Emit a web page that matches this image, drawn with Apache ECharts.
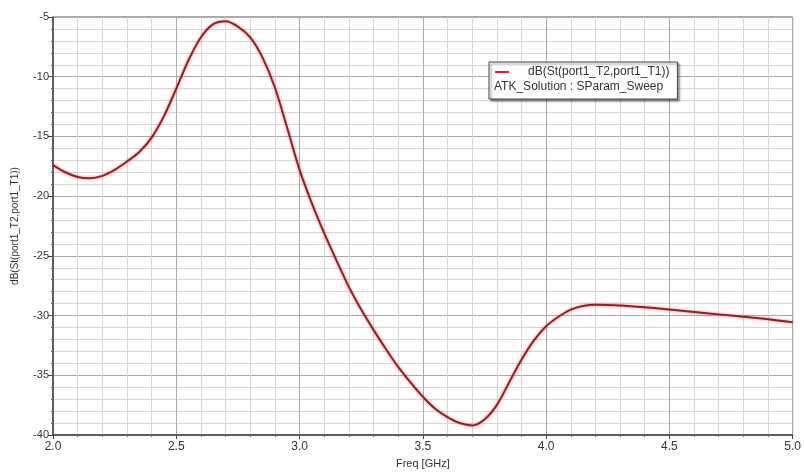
<!DOCTYPE html>
<html>
<head>
<meta charset="utf-8">
<script src="https://cdn.jsdelivr.net/npm/echarts@6/dist/echarts.min.js"></script>
<style>
  html, body { margin: 0; padding: 0; background: #fff; }
  #chart { width: 804px; height: 474px; }
</style>
</head>
<body>
<div id="chart"></div>
<script>
// frequency sweep (GHz) and S21 magnitude (dB)
const freq = [2.0, 2.05, 2.1, 2.15, 2.2, 2.25, 2.3, 2.35, 2.4, 2.45, 2.5, 2.55, 2.6, 2.65, 2.7,
  2.75, 2.8, 2.85, 2.9, 2.95, 3.0, 3.05, 3.1, 3.15, 3.2, 3.25, 3.3, 3.35, 3.4, 3.45, 3.5,
  3.55, 3.6, 3.65, 3.7, 3.75, 3.8, 3.85, 3.9, 3.95, 4.0, 4.05, 4.1, 4.15, 4.2, 4.3, 4.4,
  4.5, 4.6, 4.7, 4.8, 4.9, 5.0]
const s21 = [-17.4, -18.0, -18.4, -18.5, -18.3, -17.8, -17.1, -16.3, -15.1, -13.3, -11.0, -8.6, -6.7, -5.6, -5.35,
  -5.8, -6.7, -8.4, -10.9, -14.3, -17.8, -20.6, -23.1, -25.4, -27.6, -29.5, -31.2, -32.8, -34.3, -35.6, -36.8,
  -37.8, -38.5, -39.0, -39.2, -38.7, -37.5, -35.6, -33.7, -32.1, -30.9, -30.1, -29.5, -29.2, -29.1, -29.15, -29.3,
  -29.5, -29.7, -29.9, -30.1, -30.3, -30.55]

const seriesName = 'dB(St(port1_T2,port1_T1))'
const solutionName = 'ATK_Solution : SParam_Sweep'
const font = '"Liberation Sans", Arial, sans-serif'

const chart = echarts.init(document.getElementById('chart'))

chart.setOption({
  animation: false,
  backgroundColor: '#fff',
  grid: { left: 53, right: 7, top: 17, bottom: 39, show: true, borderColor: '#555', borderWidth: 1 },
  legend: {
    left: 489, top: 62,
    padding: [4, 8, 21, 6],
    backgroundColor: '#fff',
    borderColor: '#444',
    borderWidth: 1,
    shadowColor: 'rgba(0,0,0,0.45)',
    shadowBlur: 2,
    shadowOffsetX: 2,
    shadowOffsetY: 2,
    icon: 'rect',
    itemWidth: 14,
    itemHeight: 2,
    itemGap: 4,
    textStyle: { fontFamily: font, fontSize: 12, color: '#333', padding: [0, 0, 0, 14] },
    data: [seriesName]
  },
  graphic: [{
    type: 'text', left: 494, top: 81, z: 200, silent: true,
    style: { text: solutionName, font: '12px ' + font, fill: '#333' }
  }],
  xAxis: {
    type: 'value',
    min: 2, max: 5, interval: 0.5,
    name: 'Freq [GHz]',
    nameLocation: 'middle',
    nameGap: 23,
    nameTextStyle: { fontFamily: font, fontSize: 11, color: '#333', textDecoration: 'underline' },
    axisLine: { lineStyle: { color: '#444', width: 1.5 } },
    axisTick: { length: 4, lineStyle: { color: '#444' } },
    minorTick: { show: true, splitNumber: 5, length: 2, lineStyle: { color: '#666' } },
    axisLabel: { fontFamily: font, fontSize: 12, color: '#333', margin: 6, formatter: v => v.toFixed(1) },
    splitLine: { lineStyle: { color: '#aaa', width: 1 } },
    minorSplitLine: { show: true, lineStyle: { color: '#d6d6d6', width: 1 } }
  },
  yAxis: {
    type: 'value',
    min: -40, max: -5, interval: 5,
    name: seriesName,
    nameLocation: 'middle',
    nameGap: 33,
    nameTextStyle: { fontFamily: font, fontSize: 10, color: '#333' },
    axisLine: { show: true, lineStyle: { color: '#444', width: 1.5 } },
    axisTick: { show: true, length: 5, lineStyle: { color: '#444' } },
    minorTick: { show: true, splitNumber: 5, length: 2, lineStyle: { color: '#666' } },
    axisLabel: { fontFamily: font, fontSize: 11, color: '#333', margin: 4 },
    splitLine: { lineStyle: { color: '#aaa', width: 1 } },
    minorSplitLine: { show: true, lineStyle: { color: '#d6d6d6', width: 1 } }
  },
  series: [{
    name: seriesName,
    type: 'line',
    smooth: 0.3,
    showSymbol: false,
    data: freq.map((f, i) => [f, s21[i]]),
    itemStyle: { color: '#d42a2a' },
    lineStyle: { color: '#8f2228', width: 2, shadowColor: 'rgba(255,40,40,0.6)', shadowBlur: 3 }
  }]
})
</script>
</body>
</html>
